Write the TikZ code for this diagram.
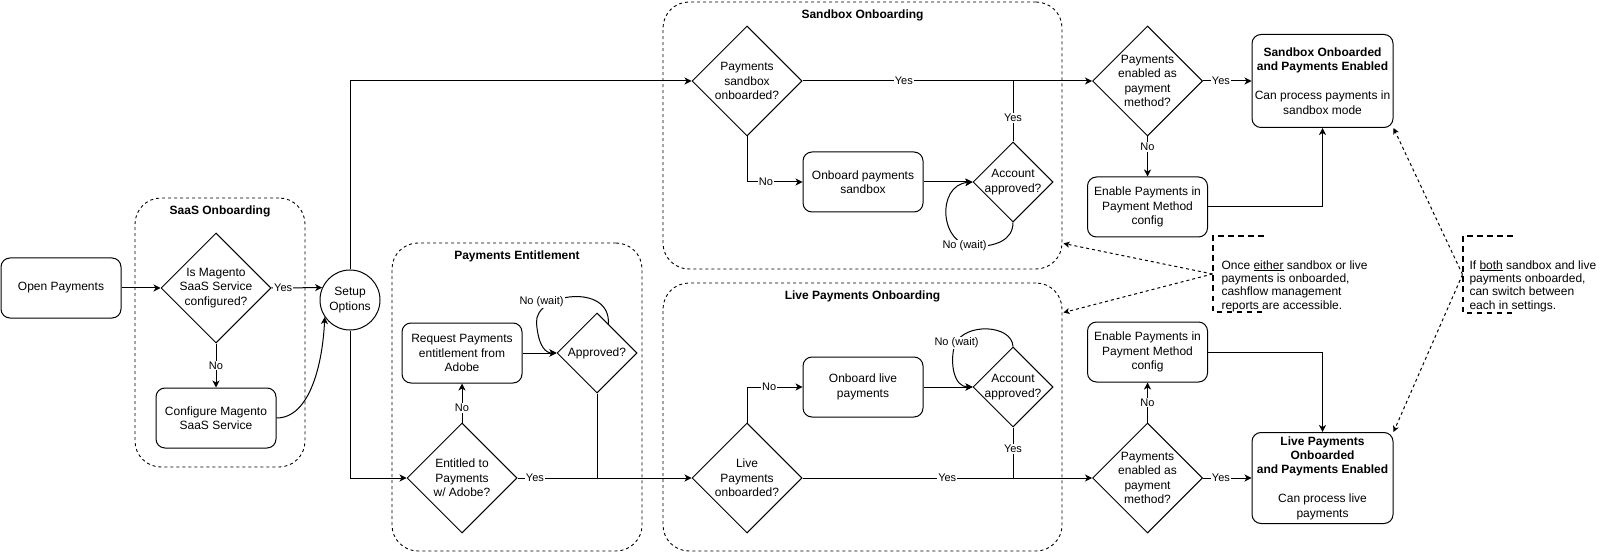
\documentclass[tikz,border=0pt]{standalone}
\usepackage{fontspec}
\setmainfont{Liberation Sans}
\usetikzlibrary{shapes.geometric,arrows.meta,calc}

\begin{document}
\begin{tikzpicture}[x=1pt,y=-1pt, line width=1pt,
  font=\fontsize{12}{14.4}\selectfont,
  proc/.style={draw, rounded corners=9pt, minimum width=120pt, minimum height=60pt, align=center, inner sep=2pt},
  dia/.style={draw, diamond, inner sep=0pt, minimum width=#1, minimum height=#1},
  dia/.default=110pt,
  inside/.style={align=center, inner sep=0pt},
  grp/.style={draw, dash pattern=on 3pt off 3pt, rounded corners=26pt, line width=0.9pt},
  gtitle/.style={font=\bfseries\fontsize{12}{14.4}\selectfont, anchor=center, yshift=-14pt},
  elab/.style={font=\fontsize{11}{13}\selectfont, fill=white, inner sep=1pt},
  arr/.style={-{Stealth[length=7pt,width=7pt,inset=2pt]}},
  note/.style={dash pattern=on 3pt off 3pt, -{Stealth[length=6pt,width=6pt,inset=1.5pt]}},
  bracket/.style={line width=2pt, dash pattern=on 5.5pt off 4.5pt},
  notetext/.style={align=left, anchor=west, inner sep=0pt, font=\fontsize{12}{13.4}\selectfont}
]
\useasboundingbox (0,0) rectangle (1603,553);

% ---------- swimlane groups ----------
\node[grp, minimum width=170pt, minimum height=269pt,
      label={[gtitle]north:SaaS Onboarding}] (g-saas) at (220,332.5) {};
\node[grp, minimum width=250pt, minimum height=308pt,
      label={[gtitle]north:Payments Entitlement}] (g-ent) at (517,397) {};
\node[grp, minimum width=399pt, minimum height=267pt,
      label={[gtitle]north:Sandbox Onboarding}] (g-sb) at (862.5,135.5) {};
\node[grp, minimum width=399pt, minimum height=268pt,
      label={[gtitle]north:Live Payments Onboarding}] (g-lv) at (862.5,417) {};

% ---------- start and SaaS check ----------
\node[proc] (open) at (61,288) {Open Payments};
\node[dia, label={[inside]center:{Is Magento\\SaaS Service\\configured?}}] (saasq) at (216,288) {};
\node[proc] (cfg) at (216,418) {Configure Magento\\SaaS Service};
\node[draw, circle, minimum size=60pt, inner sep=0pt, align=center] (setup) at (350,300) {Setup\\Options};

% ---------- entitlement ----------
\node[dia, label={[inside]center:{Entitled to\\Payments\\w/ Adobe?}}] (ent) at (462,478) {};
\node[proc] (req) at (462,353) {Request Payments\\entitlement from\\Adobe};
\node[dia=80pt, label={[inside]center:{Approved?}}] (appr) at (597,353) {};

% ---------- sandbox onboarding ----------
\node[dia, label={[inside]center:{Payments\\sandbox\\onboarded?}}] (sbq) at (747,81) {};
\node[proc] (sbon) at (863,182) {Onboard payments\\sandbox};
\node[dia=80pt, label={[inside]center:{Account\\approved?}}] (sbok) at (1013,182) {};

% ---------- live onboarding ----------
\node[dia, label={[inside]center:{Live\\Payments\\onboarded?}}] (lvq) at (747,478) {};
\node[proc] (lvon) at (863,387) {Onboard live\\payments};
\node[dia=80pt, label={[inside]center:{Account\\approved?}}] (lvok) at (1013,387) {};

% ---------- payment method checks ----------
\node[dia, label={[inside]center:{Payments\\enabled as\\payment\\method?}}] (sbpm) at (1147.5,81) {};
\node[proc] (sben) at (1147.5,207) {Enable Payments in\\Payment Method\\config};
\node[proc, minimum width=141pt, minimum height=93pt] (sbdone) at (1322.5,81)
  {\textbf{Sandbox Onboarded}\\\textbf{and Payments Enabled}\\[14.4pt]Can process payments in\\sandbox mode};

\node[dia, label={[inside]center:{Payments\\enabled as\\payment\\method?}}] (lvpm) at (1147.5,478) {};
\node[proc] (lven) at (1147.5,352) {Enable Payments in\\Payment Method\\config};
\node[proc, minimum width=141pt, minimum height=91pt] (lvdone) at (1322.5,478)
  {\textbf{Live Payments}\\\textbf{Onboarded}\\\textbf{and Payments Enabled}\\[14.4pt]Can process live\\payments};

% ---------- connectors: SaaS ----------
\draw[arr] (open.east) -- (saasq.west);
\draw[arr] (saasq.east) -- node[elab, pos=0.23] {Yes} (setup.156);
\draw[arr] (saasq.south) -- node[elab] {No} (cfg.north);
\draw[arr] (cfg.east) .. controls ($(cfg.east)+(34,0)$) and ($(setup.214)+(-2,45)$) .. (setup.214);
\draw[arr] (setup.north) |- (sbq.west);
\draw[arr] (setup.south) |- (ent.west);

% ---------- connectors: entitlement ----------
\draw[arr] (ent.north) -- node[elab, pos=0.375] {No} (req.south);
\draw[arr] (req.east) -- (appr.west);
\draw[arr] ($(appr.north)!0.28!(appr.east)$)
  .. controls ($(appr.north)+(14,-30)$) and ($(appr.west)+(-22,-60)$) .. ($(appr.west)+(-20,-30)$)
  node[elab] at ($(appr.west)+(-15,-51)$) {No (wait)}
  .. controls ($(appr.west)+(-18,-5)$) and ($(appr.west)+(-10,0)$) .. (appr.west);
\draw[arr] (ent.east) -- node[elab, pos=0.1] {Yes} (lvq.west);
\draw (appr.south) -- (appr.south |- ent.east);

% ---------- connectors: sandbox ----------
\draw[arr] (sbq.east) -- node[elab, pos=0.35] {Yes} (sbpm.west);
\draw[arr] (sbq.south) |- node[elab, pos=0.67] {No} (sbon.west);
\draw[arr] (sbon.east) -- (sbok.west);
\draw (sbok.north) -- node[elab, pos=0.39] {Yes} (sbok.north |- sbq.east);
\draw[arr] (sbok.south)
  .. controls ($(sbok.south)+(0,18)$) and ($(sbok.south)+(-18,24)$) .. ($(sbok.south)+(-38,24)$)
  node[elab] at ($(sbok.west)+(-8,64)$) {No (wait)}
  .. controls ($(sbok.west)+(-33,65)$) and ($(sbok.west)+(-37,3)$) .. (sbok.west);

% ---------- connectors: live ----------
\draw[arr] (lvq.north) |- node[elab, pos=0.7] {No} (lvon.west);
\draw[arr] (lvon.east) -- (lvok.west);
\draw (lvok.south) -- node[elab, pos=0.42] {Yes} (lvok.south |- lvq.east);
\draw[arr] (lvq.east) -- node[elab] {Yes} (lvpm.west);
\draw[arr] (lvok.north)
  .. controls ($(lvok.north)+(-1,-22)$) and ($(lvok.west)+(-8,-65)$) .. ($(lvok.west)+(-18,-42)$)
  node[elab] at ($(lvok.west)+(-16,-44)$) {No (wait)}
  .. controls ($(lvok.west)+(-23,-22)$) and ($(lvok.west)+(-18,0)$) .. (lvok.west);

% ---------- connectors: payment method ----------
\draw[arr] (sbpm.east) -- node[elab, pos=0.37] {Yes} (sbdone.west);
\draw[arr] (sbpm.south) -- node[elab, pos=0.26] {No} (sben.north);
\draw[arr] (sben.east) -| (sbdone.south);
\draw[arr] (lvpm.east) -- node[elab, pos=0.37] {Yes} (lvdone.west);
\draw[arr] (lvpm.north) -- node[elab] {No} (lven.south);
\draw[arr] (lven.east) -| (lvdone.north);

% ---------- annotations ----------
\node[minimum width=50pt, minimum height=74pt, inner sep=0pt] (n1) at (1238,274) {};
\draw[bracket] (n1.north east) -- (n1.north west) -- (n1.south west) -- (n1.south east);
\node[notetext] (n1t) at (1221,286)
  {Once \underline{either} sandbox or live\\payments is onboarded,\\cashflow management\\reports are accessible.};
\coordinate (sbhit) at ($(g-sb.south east)+(1,-26)$);
\coordinate (lvhit) at ($(g-lv.north east)+(1,30)$);
\draw[note] (n1.west) -- (sbhit);
\draw[note] (n1.west) -- (lvhit);

\node[minimum width=49pt, minimum height=75pt, inner sep=0pt] (n2) at (1487.5,274.5) {};
\draw[bracket] (n2.north east) -- (n2.north west) -- (n2.south west) -- (n2.south east);
\node[notetext] (n2t) at (1469,286)
  {If \underline{both} sandbox and live\\payments onboarded,\\can switch between\\each in settings.};
\draw[note] (n2.west) -- (sbdone.south east);
\draw[note] (n2.west) -- (lvdone.north east);
\end{tikzpicture}
\end{document}
